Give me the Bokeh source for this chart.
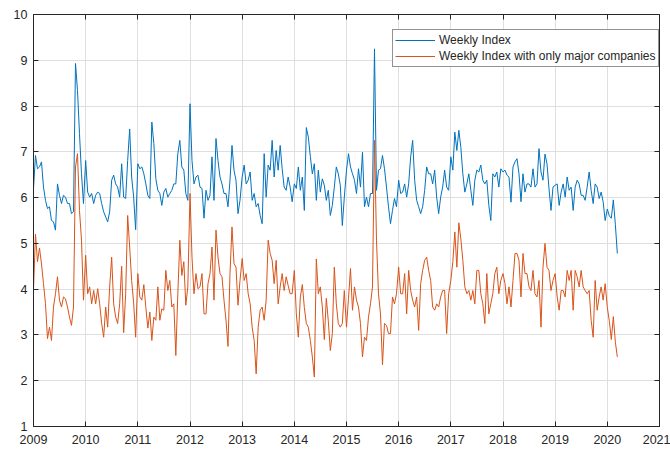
from bokeh.plotting import figure
from bokeh.models import Range1d, FixedTicker, LinearAxis, Legend, LegendItem, CustomJSTickFormatter
from bokeh.embed import file_html
from bokeh.resources import INLINE

# ---- data: bi-weekly readings, each year's list starts at 1 January ----
blue_2009 = [6.2, 6.92, 6.63, 6.67, 6.78, 6.23, 5.94, 5.76, 5.8, 5.5, 5.47, 5.29, 6.3, 6.05, 5.87, 6.05, 6.01, 5.87, 5.87, 5.65, 5.69, 8.93, 8.34, 7.4, 6.52, 5.87]
blue_2010 = [6.81, 6.12, 6.01, 6.09, 5.87, 6.05, 6.12, 6.09, 5.87, 5.69, 5.58, 5.47, 5.69, 6.38, 6.49, 6.3, 6.23, 6.01, 6.74, 6.01, 5.98, 6.81, 7.5, 6.45, 6.01, 5.3]
blue_2011 = [6.74, 6.63, 6.67, 6.52, 6.3, 6.05, 5.98, 7.65, 7.18, 6.41, 6.16, 6.09, 5.83, 6.12, 6.2, 6.01, 6.09, 6.16, 6.3, 6.3, 6.96, 7.25, 6.67, 6.6, 6.09, 5.94]
blue_2012 = [8.05, 6.81, 6.3, 6.45, 6.49, 6.23, 6.2, 5.55, 6.16, 5.94, 6.05, 6.89, 5.94, 7.29, 6.81, 6.45, 6.3, 6.09, 6.09, 5.8, 6.38, 7.14, 6.6, 6.38, 5.65, 5.94]
blue_2013 = [6.45, 6.71, 6.3, 6.38, 6.56, 5.94, 6.09, 5.8, 5.87, 5.61, 5.43, 6.96, 6.01, 6.71, 6.6, 7.25, 6.45, 7.03, 6.6, 7.14, 6.63, 6.23, 6.16, 6.45, 6.23, 5.91]
blue_2014 = [6.3, 6.2, 6.67, 6.16, 6.45, 5.72, 7.53, 7.32, 6.9, 6.52, 6.74, 5.94, 6.6, 6.12, 6.41, 6.27, 5.94, 6.16, 5.61, 5.83, 6.23, 6.67, 6.52, 6.27, 5.39, 6.01]
blue_2015 = [6.6, 6.96, 6.67, 6.52, 6.38, 6.09, 6.63, 6.23, 6.99, 5.8, 6.01, 5.8, 6.09, 6.09, 9.25, 6.16, 6.6, 6.63, 6.92, 6.63, 6.23, 5.8, 5.43, 5.72, 5.98, 5.8]
blue_2016 = [6.38, 6.09, 6.12, 6.3, 6.01, 6.3, 6.89, 7.25, 6.38, 5.94, 5.8, 5.65, 5.8, 6.16, 6.67, 6.52, 6.52, 6.3, 6.6, 6.01, 5.65, 6.01, 6.23, 6.6, 6.23, 6.16]
blue_2017 = [6.89, 6.6, 7.43, 7.03, 7.47, 7.1, 6.52, 6.12, 6.3, 6.52, 6.16, 5.83, 6.38, 6.6, 6.56, 6.71, 6.38, 6.3, 6.38, 5.83, 5.5, 6.52, 6.45, 6.56, 6.23, 6.63]
blue_2018 = [6.56, 6.6, 6.49, 6.45, 5.9, 6.67, 6.78, 6.85, 6.52, 5.91, 6.52, 6.12, 6.3, 6.3, 6.23, 6.63, 6.23, 6.3, 7.07, 6.56, 6.38, 6.95, 6.74, 6.2, 5.72, 6.23]
blue_2019 = [6.27, 6.3, 5.83, 6.12, 6.3, 6.01, 6.45, 6.16, 6.23, 5.72, 6.23, 6.38, 6.3, 6.05, 6.05, 5.94, 6.23, 6.56, 6.16, 5.87, 6.3, 6.23, 5.98, 6.12, 5.91, 5.5]
blue_2020 = [5.75, 5.6, 5.55, 5.95, 5.42, 4.78]

orange_2009 = [4.0, 5.2, 4.6, 4.9, 4.55, 4.12, 3.68, 2.92, 3.17, 2.88, 3.61, 3.9, 4.27, 3.76, 3.61, 3.83, 3.79, 3.61, 3.39, 3.21, 3.61, 6.67, 6.96, 5.72, 5.07, 3.76]
orange_2010 = [4.74, 3.9, 4.05, 3.68, 3.97, 3.68, 4.01, 3.68, 3.25, 2.95, 3.61, 3.17, 4.05, 4.7, 3.68, 3.39, 3.25, 3.68, 4.5, 3.05, 3.9, 5.61, 4.92, 4.19, 3.7, 2.95]
orange_2011 = [4.34, 3.83, 3.76, 4.1, 3.6, 3.15, 3.5, 2.88, 3.39, 3.32, 4.05, 3.32, 3.57, 3.54, 4.41, 3.97, 4.19, 3.61, 3.68, 2.55, 3.9, 5.07, 4.3, 4.6, 3.65, 4.05]
orange_2012 = [6.09, 4.7, 3.9, 4.34, 4.01, 4.05, 4.34, 3.46, 3.46, 4.12, 4.34, 4.92, 3.76, 5.29, 4.7, 4.34, 4.27, 3.76, 3.32, 2.75, 4.34, 5.36, 4.56, 4.48, 3.65, 4.19]
orange_2013 = [4.67, 4.19, 4.34, 3.9, 3.68, 3.17, 2.88, 2.15, 3.17, 3.54, 3.61, 3.32, 3.76, 5.07, 4.78, 4.63, 4.12, 4.63, 3.68, 4.05, 4.34, 3.97, 4.27, 4.08, 3.9, 3.9]
orange_2014 = [4.41, 3.46, 2.95, 3.83, 4.1, 3.6, 3.25, 3.17, 2.88, 2.52, 2.08, 4.66, 3.9, 4.05, 3.61, 2.9, 3.8, 3.3, 2.66, 3.03, 4.48, 3.68, 3.25, 3.17, 3.25, 3.97]
orange_2015 = [3.17, 3.8, 4.45, 3.54, 4.05, 3.76, 3.61, 3.25, 2.52, 2.95, 2.88, 3.39, 3.68, 4.05, 7.25, 5.07, 3.9, 3.46, 2.35, 3.25, 3.21, 3.03, 3.03, 3.83, 3.68, 3.9]
orange_2016 = [4.48, 3.9, 3.9, 4.34, 3.46, 4.41, 3.97, 3.76, 3.61, 3.83, 3.1, 4.12, 4.41, 4.63, 4.7, 4.41, 4.19, 3.61, 3.54, 3.68, 3.61, 3.83, 3.97, 3.97, 3.03, 3.9]
orange_2017 = [4.19, 4.6, 5.25, 4.48, 5.45, 5.1, 4.63, 4.05, 3.9, 3.97, 3.76, 3.97, 3.68, 4.41, 4.41, 3.9, 3.68, 3.25, 4.34, 3.46, 3.68, 3.9, 4.34, 4.48, 3.9, 4.19]
orange_2018 = [4.34, 4.12, 3.68, 4.05, 3.61, 4.19, 4.78, 4.78, 4.63, 3.83, 4.78, 4.34, 4.34, 4.05, 3.97, 4.41, 3.9, 3.83, 4.19, 3.17, 4.48, 5.0, 4.48, 4.41, 3.97, 4.19]
orange_2019 = [4.34, 3.83, 3.54, 3.97, 3.97, 3.83, 4.41, 4.19, 4.41, 3.54, 4.41, 4.27, 4.05, 4.41, 4.05, 3.97, 3.9, 3.97, 3.32, 2.95, 4.19, 3.54, 3.83, 4.05, 3.76, 4.12]
orange_2020 = [3.6, 3.3, 2.9, 3.4, 2.85, 2.52]

years = list(range(2009, 2021))
blue_years = [blue_2009, blue_2010, blue_2011, blue_2012, blue_2013, blue_2014,
              blue_2015, blue_2016, blue_2017, blue_2018, blue_2019, blue_2020]
orange_years = [orange_2009, orange_2010, orange_2011, orange_2012, orange_2013, orange_2014,
                orange_2015, orange_2016, orange_2017, orange_2018, orange_2019, orange_2020]

x_ticks = list(range(2009, 2022))
y_ticks = list(range(1, 11))
series_labels = ["Weekly Index", "Weekly Index with only major companies"]


def flatten(per_year):
    xs, ys = [], []
    for yr, vals in zip(years, per_year):
        for i, v in enumerate(vals):
            xs.append(yr + i * 14.0 / 365.25)
            ys.append(v)
    return xs, ys


bx, by = flatten(blue_years)
ox, oy = flatten(orange_years)

AX = "#262626"
FONT = "Liberation Sans"
FS = "12.5px"

p = figure(width=670, height=450, output_backend="svg", toolbar_location=None,
           x_range=Range1d(2009, 2021), y_range=Range1d(1, 10),
           min_border_left=33, min_border_right=11, min_border_top=14, min_border_bottom=24)
p.outline_line_color = None
p.background_fill_color = "white"
p.border_fill_color = "white"

p.xaxis.ticker = FixedTicker(ticks=x_ticks)
p.yaxis.ticker = FixedTicker(ticks=y_ticks)
for ax in (p.xaxis[0], p.yaxis[0]):
    ax.major_tick_in = 5
    ax.major_tick_out = 0
    ax.minor_tick_line_color = None
    ax.axis_line_color = AX
    ax.major_tick_line_color = AX
    ax.major_label_text_font = FONT
    ax.major_label_text_font_size = FS
    ax.major_label_text_color = AX
p.xaxis.major_label_standoff = 8
p.yaxis.major_label_standoff = 6

blank = CustomJSTickFormatter(code="return '';")
raxis = LinearAxis(ticker=FixedTicker(ticks=y_ticks), formatter=blank,
                   major_label_standoff=0, major_tick_in=5, major_tick_out=0,
                   minor_tick_line_color=None, axis_line_color=AX, major_tick_line_color=AX)
p.add_layout(raxis, "right")
taxis = LinearAxis(ticker=FixedTicker(ticks=x_ticks), formatter=blank,
                   major_label_standoff=0, major_tick_in=5, major_tick_out=0,
                   minor_tick_line_color=None, axis_line_color=AX, major_tick_line_color=AX)
p.add_layout(taxis, "above")

p.xgrid.grid_line_color = "#DFDFDF"
p.ygrid.grid_line_color = "#DFDFDF"
p.xgrid.grid_line_width = 1
p.ygrid.grid_line_width = 1

rb = p.line(bx, by, line_color="#0072BD", line_width=1)
ro = p.line(ox, oy, line_color="#D95319", line_width=1)

legend = Legend(items=[LegendItem(label=series_labels[0], renderers=[rb]),
                       LegendItem(label=series_labels[1], renderers=[ro])],
                location=(359, 359))
legend.border_line_color = AX
legend.border_line_width = 1
legend.background_fill_color = "white"
legend.background_fill_alpha = 1
legend.padding = 2
legend.spacing = 0
legend.margin = 0
legend.glyph_width = 40
legend.glyph_height = 16
legend.label_height = 16
legend.label_standoff = 4
legend.label_text_font = FONT
legend.label_text_font_size = "12px"
legend.label_text_color = AX
p.add_layout(legend)

open("out.html", "w").write(file_html(p, INLINE))
